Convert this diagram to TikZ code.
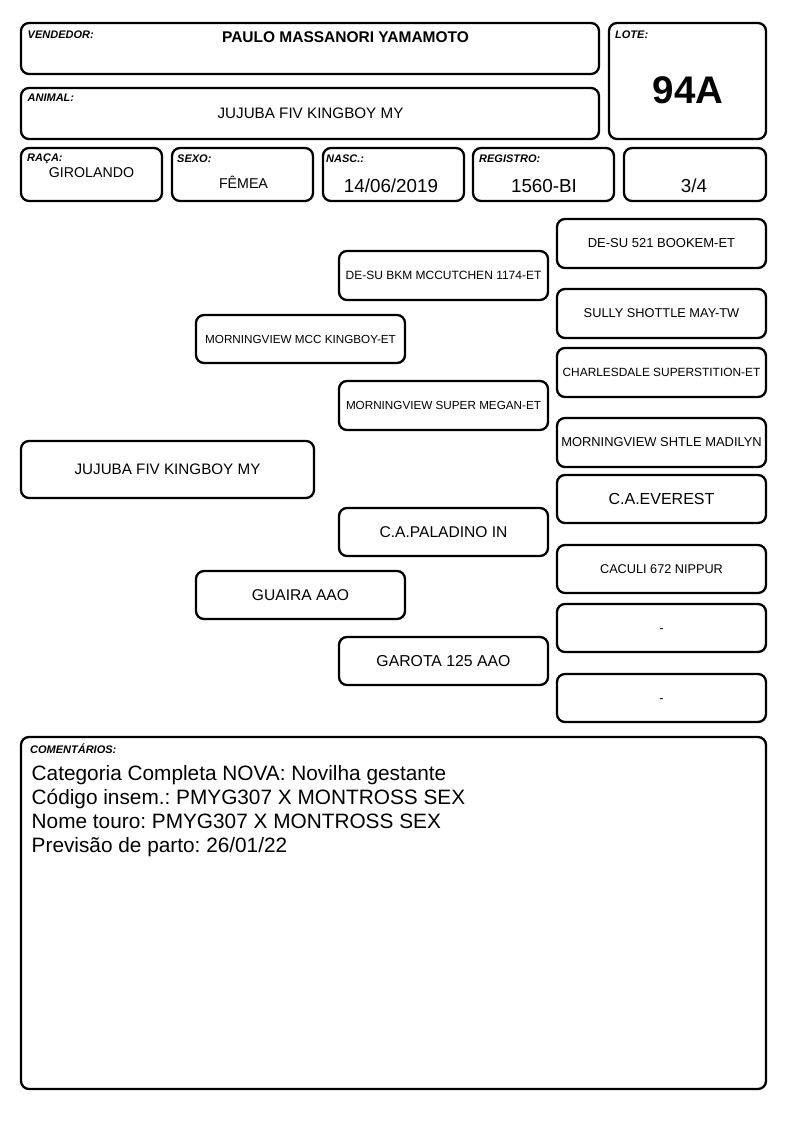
\documentclass[tikz,border=0pt]{standalone}
\usepackage{fontspec}
\setmainfont{Liberation Sans}
\newcommand{\fs}[1]{\fontsize{#1}{#1}\selectfont}
\frenchspacing
\begin{document}
\begin{tikzpicture}[x=1pt,y=-1pt,
  box/.style={draw=black, line width=2.3pt, rounded corners=8pt, inner sep=0pt, outer sep=0pt, align=center},
  gcol/.style={box, minimum width=209pt},
  lbl/.style={font=\fs{11}\bfseries\itshape, anchor=base west, inner sep=0pt},
  val/.style={anchor=base, inner sep=0pt},
  cline/.style={anchor=base west, inner sep=0pt, font=\fs{20.8}}]
\useasboundingbox (0,0) rectangle (794,1123);
% header boxes
\node[box, minimum width=578pt, minimum height=51pt] (vend) at (310,48.5) {};
\node[box, minimum width=578pt, minimum height=51pt] (anim) at (310,113.5) {};
\node[box, minimum width=157pt, minimum height=116pt] (lote) at (687.5,81) {};
\node[box, minimum width=141pt, minimum height=53pt] (raca) at (91.5,174.5) {};
\node[box, minimum width=141pt, minimum height=53pt] (sexo) at (242.5,174.5) {};
\node[box, minimum width=141pt, minimum height=53pt] (nasc) at (393.5,174.5) {};
\node[box, minimum width=141pt, minimum height=53pt] (reg) at (543.5,174.5) {};
\node[box, minimum width=142pt, minimum height=53pt] (frac) at (695,174.5) {};
% labels
\node[lbl] (lvend) at (27.5,38.5) {VENDEDOR:};
\node[lbl] (lanim) at (27.5,102) {ANIMAL:};
\node[lbl] (llote) at (615,38.5) {LOTE:};
\node[lbl] (lraca) at (27,162) {RAÇA:};
\node[lbl] (lsexo) at (177,163) {SEXO:};
\node[lbl] (lnasc) at (326,163) {NASC.:};
\node[lbl] (lreg) at (479,163) {REGISTRO:};
% values
\node[val, font=\fs{15.5}\bfseries] (tvend) at (345.5,43) {PAULO MASSANORI YAMAMOTO};
\node[val, font=\fs{15.2}] (tanim) at (310.5,119) {JUJUBA FIV KINGBOY MY};
\node[val, font=\fs{38.5}\bfseries] (tlote) at (688,103.5) {94A};
\node[val, font=\fs{14.2}] (traca) at (91.5,177.7) {GIROLANDO};
\node[val, font=\fs{14.2}] (tsexo) at (243.5,189) {FÊMEA};
\node[val, font=\fs{18.8}] (tnasc) at (391,193) {14/06/2019};
\node[val, font=\fs{18.8}] (treg) at (544,193) {1560-BI};
\node[val, font=\fs{18.8}] (tfrac) at (694,193) {3/4};
% pedigree
\node[box, minimum width=293pt, minimum height=57pt, font=\fs{15.2}] (a0) at (167.5,469.5) {JUJUBA FIV KINGBOY MY};
\node[gcol, minimum height=48pt, font=\fs{11.7}] (p1) at (300.5,339) {MORNINGVIEW MCC KINGBOY-ET};
\node[gcol, minimum height=48pt, font=\fs{15.6}] (p2) at (300.5,595) {GUAIRA AAO};
\node[gcol, minimum height=49pt, font=\fs{12}] (g1) at (443.5,275.5) {DE-SU BKM MCCUTCHEN 1174-ET};
\node[gcol, minimum height=49pt, font=\fs{11.7}] (g2) at (443.5,405.5) {MORNINGVIEW SUPER MEGAN-ET};
\node[gcol, minimum height=48pt, font=\fs{15.6}] (g3) at (443.5,532) {C.A.PALADINO IN};
\node[gcol, minimum height=48pt, font=\fs{15.8}] (g4) at (443.5,661) {GAROTA 125 AAO};
\node[gcol, minimum height=49pt, font=\fs{13}] (gg1) at (661.5,243.5) {DE-SU 521 BOOKEM-ET};
\node[gcol, minimum height=49pt, font=\fs{12.8}] (gg2) at (661.5,313.5) {SULLY SHOTTLE MAY-TW};
\node[gcol, minimum height=49pt, font=\fs{11.9}] (gg3) at (661.5,372.5) {CHARLESDALE SUPERSTITION-ET};
\node[gcol, minimum height=49pt, font=\fs{12.9}] (gg4) at (661.5,442.5) {MORNINGVIEW SHTLE MADILYN};
\node[gcol, minimum height=48pt, font=\fs{16}] (gg5) at (661.5,499) {C.A.EVEREST};
\node[gcol, minimum height=48pt, font=\fs{12.7}] (gg6) at (661.5,569) {CACULI 672 NIPPUR};
\node[val, font=\fs{12.7}] (gg7t) at (661.5,632) {-};
\node[gcol, minimum height=48pt] (gg7) at (661.5,628) {};
\node[val, font=\fs{12.7}] (gg8t) at (661.5,702) {-};
\node[gcol, minimum height=48pt] (gg8) at (661.5,698) {};
% comments
\node[box, minimum width=745pt, minimum height=352pt] (com) at (393.5,913) {};
\node[lbl] (lcom) at (30,753) {COMENTÁRIOS:};
\node[cline] (c1) at (31.5,780.7) {Categoria Completa NOVA: Novilha gestante};
\node[cline] (c2) at (31.5,804.7) {Código insem.: PMYG307 X MONTROSS SEX};
\node[cline] (c3) at (31.5,828.7) {Nome touro: PMYG307 X MONTROSS SEX};
\node[cline] (c4) at (31.5,852.7) {Previsão de parto: 26/01/22};
\end{tikzpicture}
\end{document}
